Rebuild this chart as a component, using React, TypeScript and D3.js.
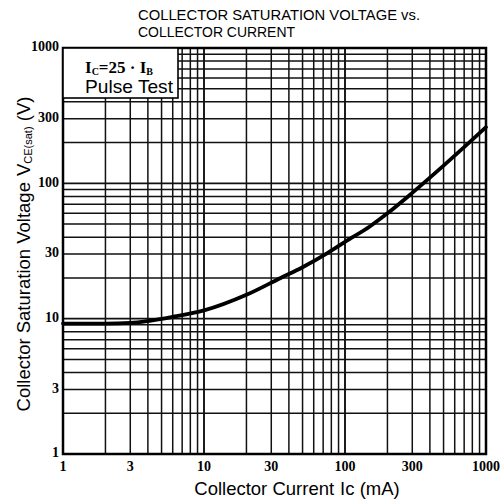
import { useEffect, useRef } from 'react';
import * as d3 from 'd3';

// curve: collector current (mA) vs VCE(sat) (V)
const currentMA = [1, 2, 3, 4, 6, 10, 20, 35, 50, 75, 100, 150, 200, 300, 500, 700, 1000];
const vceSat = [9.2, 9.2, 9.3, 9.6, 10.3, 11.5, 15, 20, 24, 30.5, 37, 48, 60, 85, 135, 185, 260];

const xTicks = [1, 3, 10, 30, 100, 300, 1000];
const yTicks = [1, 3, 10, 30, 100, 300, 1000];
const titleLines = ['COLLECTOR SATURATION VOLTAGE vs.', 'COLLECTOR CURRENT'];

export default function App() {
  const svgRef = useRef<SVGSVGElement>(null);

  useEffect(() => {
    if (!svgRef.current) return;
    const width = 500;
    const height = 504;
    const m = { left: 63, right: 486, top: 48, bottom: 454 };
    const sans = '"Liberation Sans", Arial, sans-serif';
    const serif = '"Liberation Serif", "DejaVu Serif", serif';

    const svg = d3.select(svgRef.current);
    svg.selectAll('*').remove();
    svg.attr('width', width).attr('height', height).attr('viewBox', `0 0 ${width} ${height}`);

    svg.append('rect').attr('width', width).attr('height', height).attr('fill', '#fff');

    const x = d3.scaleLog().domain([1, 1000]).range([m.left, m.right]);
    const y = d3.scaleLog().domain([1, 1000]).range([m.bottom, m.top]);

    // === grid: 1..9 in each decade ===
    const gridVals: number[] = [];
    [1, 10, 100].forEach((dec) => {
      for (let k = 1; k < 10; k++) gridVals.push(dec * k);
    });
    gridVals.push(1000);

    const grid = svg.append('g');
    gridVals.forEach((v) => {
      const major = [1, 10, 100, 1000].includes(v);
      grid.append('line')
        .attr('x1', x(v)).attr('x2', x(v))
        .attr('y1', m.top).attr('y2', m.bottom)
        .attr('stroke', '#111')
        .attr('stroke-width', major ? 1.9 : 1.5);
      grid.append('line')
        .attr('x1', m.left).attr('x2', m.right)
        .attr('y1', y(v)).attr('y2', y(v))
        .attr('stroke', '#111')
        .attr('stroke-width', major ? 1.9 : 1.5);
    });

    // frame
    svg.append('rect')
      .attr('x', m.left).attr('y', m.top)
      .attr('width', m.right - m.left).attr('height', m.bottom - m.top)
      .attr('fill', 'none').attr('stroke', '#000').attr('stroke-width', 2.5);

    // === condition box ===
    svg.append('rect')
      .attr('x', m.left).attr('y', m.top)
      .attr('width', 115).attr('height', 50)
      .attr('fill', '#fff').attr('stroke', '#000').attr('stroke-width', 1.6);

    const cond = svg.append('text')
      .attr('x', 85).attr('y', 73)
      .attr('font-family', serif)
      .attr('font-size', 17).attr('font-weight', 'bold');
    cond.append('tspan').text('I');
    cond.append('tspan').attr('font-size', 10).attr('dy', 2).text('C');
    cond.append('tspan').attr('dy', -2).text('=25 · I');
    cond.append('tspan').attr('font-size', 10).attr('dy', 2).text('B');

    svg.append('text')
      .attr('x', 85).attr('y', 93)
      .attr('font-family', sans)
      .attr('font-size', 19)
      .attr('textLength', 88)
      .attr('lengthAdjust', 'spacingAndGlyphs')
      .text('Pulse Test');

    // === curve ===
    const pts = currentMA.map((c, i) => [c, vceSat[i]] as [number, number]);
    const line = d3.line<[number, number]>()
      .x((d) => x(d[0]))
      .y((d) => y(d[1]))
      .curve(d3.curveMonotoneX);
    svg.append('path')
      .attr('d', line(pts))
      .attr('fill', 'none')
      .attr('stroke', '#000')
      .attr('stroke-width', 3.8)
      .attr('stroke-linecap', 'round');

    // === tick labels ===
    xTicks.forEach((v) => {
      svg.append('text')
        .attr('x', x(v)).attr('y', 471)
        .attr('text-anchor', 'middle')
        .attr('font-family', serif)
        .attr('font-weight', 'bold')
        .attr('font-size', 14)
        .text(String(v));
    });
    yTicks.forEach((v) => {
      svg.append('text')
        .attr('x', 59).attr('y', y(v))
        .attr('text-anchor', 'end')
        .attr('dominant-baseline', 'middle')
        .attr('font-family', serif)
        .attr('font-weight', 'bold')
        .attr('font-size', 14)
        .text(String(v));
    });

    // === axis titles ===
    const xl = svg.append('text')
      .attr('x', 297).attr('y', 495)
      .attr('text-anchor', 'middle')
      .attr('font-family', sans)
      .attr('font-size', 18.5);
    xl.append('tspan').text('Collector Current');
    xl.append('tspan').attr('dx', 6).text('Ic (mA)');

    const yl = svg.append('text')
      .attr('transform', 'translate(30, 254) rotate(-90)')
      .attr('text-anchor', 'middle')
      .attr('font-family', sans)
      .attr('font-size', 18.5);
    yl.append('tspan').text('Collector Saturation Voltage');
    yl.append('tspan').attr('dx', 6).text('V');
    yl.append('tspan').attr('font-size', 11).attr('dy', 2).text('CE(sat)');
    yl.append('tspan').attr('dy', -2).text(' (V)');

    // === title ===
    titleLines.forEach((t, i) => {
      svg.append('text')
        .attr('x', 138).attr('y', 20 + i * 17)
        .attr('font-family', sans)
        .attr('font-size', 14)
        .attr('textLength', i === 0 ? 282 : 157)
        .attr('lengthAdjust', 'spacingAndGlyphs')
        .text(t);
    });
  }, []);

  return (
    <div style={{ position: 'absolute', left: 0, top: 0 }}>
      <svg ref={svgRef} />
    </div>
  );
}
